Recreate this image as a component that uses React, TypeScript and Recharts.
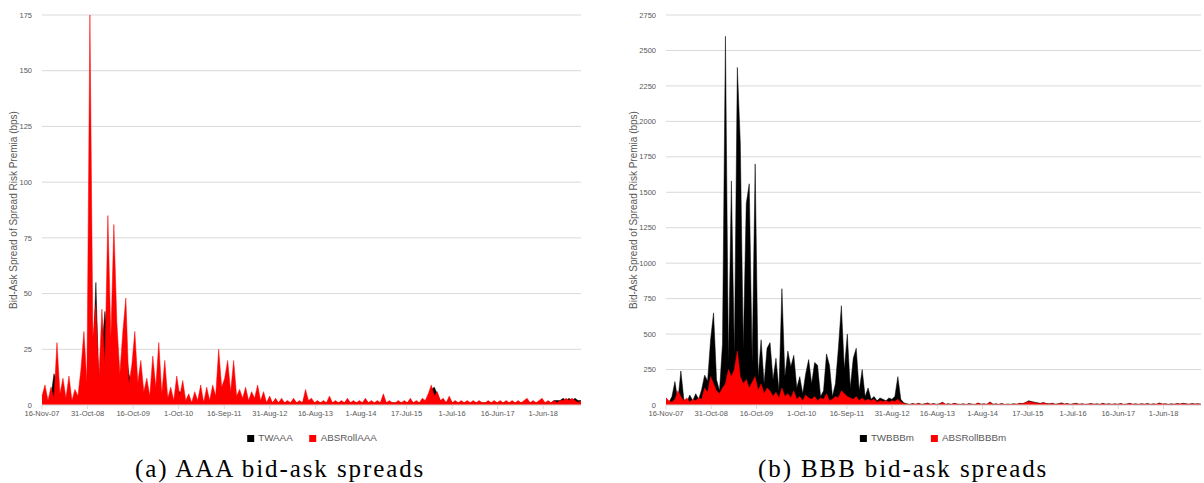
import React from 'react';
import { AreaChart, Area, XAxis, YAxis, CartesianGrid } from 'recharts';

// spacing between observations (days since 16-Nov-07)
const STEP_DAYS = 23;

const tickDays = [0, 350, 700, 1050, 1400, 1750, 2100, 2450, 2800, 3150, 3500, 3850];
const tickLabels = [
  '16-Nov-07', '31-Oct-08', '16-Oct-09', '1-Oct-10', '16-Sep-11', '31-Aug-12',
  '16-Aug-13', '1-Aug-14', '17-Jul-15', '1-Jul-16', '16-Jun-17', '1-Jun-18',
];

const aaaTicks = [0, 25, 50, 75, 100, 125, 150, 175];
const bbbTicks = [0, 250, 500, 750, 1000, 1250, 1500, 1750, 2000, 2250, 2500, 2750];

// AAA panel
const twAAA = [
  3, 5, 1, 4, 14, 10, 3, 6, 2, 7,
  1, 4, 2, 8, 15, 6, 60, 20, 55, 8,
  25, 42, 30, 15, 35, 20, 8, 18, 25, 14,
  9, 15, 5, 10, 3, 6, 2, 11, 4, 12,
  3, 10, 2, 5, 1, 6, 6, 4, 1, 3,
  1, 3, 1, 5, 1, 4, 1, 5, 2, 12,
  4, 6, 10, 3, 9, 2, 4, 2, 4, 1,
  3, 2, 5, 1, 3, 1, 2, 1, 2, 1,
  2, 1, 1, 1, 2, 1, 1, 1, 4, 1,
  2, 1, 1, 1, 1, 1, 2, 1, 1, 1,
  1, 1, 2, 1, 1, 1, 1, 1, 2, 1,
  1, 1, 1, 1, 3, 1, 1, 1, 1, 1,
  1, 1, 1, 2, 1, 1, 1, 2, 1, 4,
  7, 8, 5, 2, 2, 1, 3, 1, 1, 1,
  1, 1, 1, 1, 1, 1, 1, 1, 1, 1,
  1, 1, 1, 1, 1, 1, 1, 1, 1, 1,
  1, 1, 2, 1, 1, 1, 1, 2, 1, 1,
  1, 2, 2, 2, 3, 2, 3, 2, 3, 2,
  2,
];
const absRollAAA = [
  4, 9, 2, 8, 3, 28, 5, 12, 3, 13,
  2, 7, 4, 16, 33, 10, 175, 30, 45, 12,
  43, 18, 85, 30, 81, 37, 14, 33, 48, 9,
  18, 33, 10, 20, 6, 12, 4, 22, 8, 28,
  5, 20, 3, 8, 2, 13, 4, 11, 2, 5,
  1, 6, 2, 9, 1, 8, 2, 9, 4, 25,
  8, 12, 20, 6, 20, 4, 7, 3, 8, 2,
  6, 3, 9, 2, 6, 1, 4, 1, 3, 1,
  3, 1, 2, 1, 3, 1, 2, 1, 7, 2,
  3, 1, 2, 1, 2, 1, 4, 1, 2, 1,
  2, 1, 3, 1, 2, 1, 2, 1, 3, 1,
  2, 1, 2, 1, 5, 1, 2, 1, 1, 2,
  1, 2, 1, 3, 1, 2, 1, 3, 2, 5,
  9, 4, 6, 2, 3, 1, 4, 1, 2, 1,
  2, 1, 2, 1, 2, 1, 2, 1, 1, 2,
  1, 2, 1, 2, 1, 2, 1, 2, 1, 2,
  1, 2, 3, 1, 2, 1, 2, 3, 1, 2,
  1, 2, 1, 2, 2, 3, 2, 3, 2, 1,
  2,
];

// BBB panel
const twBBBm = [
  50, 20, 60, 165, 30, 240, 40, 20, 70, 30,
  80, 40, 110, 210, 170, 460, 650, 180, 100, 430,
  2600, 300, 1580, 350, 2380, 1850, 400, 1420, 1560, 300,
  1700, 200, 460, 150, 400, 440, 180, 330, 100, 820,
  200, 380, 270, 350, 120, 200, 80, 220, 320, 150,
  300, 280, 60, 100, 360, 280, 60, 150, 400, 700,
  250, 500, 120, 330, 400, 100, 250, 60, 120, 40,
  60, 30, 50, 40, 30, 50, 40, 60, 200, 40,
  15, 8, 5, 10, 6, 12, 5, 8, 14, 6,
  10, 5, 8, 20, 6, 9, 5, 12, 7, 5,
  8, 4, 10, 6, 5, 14, 6, 8, 5, 22,
  6, 8, 5, 10, 4, 7, 5, 9, 6, 12,
  10, 18, 30, 24, 20, 15, 12, 18, 10, 8,
  12, 6, 9, 15, 7, 10, 5, 8, 12, 6,
  9, 5, 7, 10, 6, 8, 5, 12, 6, 9,
  5, 8, 6, 10, 5, 7, 12, 6, 8, 5,
  9, 6, 10, 5, 8, 6, 14, 7, 9, 5,
  8, 6, 10, 7, 12, 8, 6, 10, 7, 9,
  6,
];
const absRollBBBm = [
  50, 30, 20, 40, 100, 60, 30, 50, 20, 40,
  30, 50, 40, 120, 90, 200, 150, 100, 80, 120,
  150, 250, 200, 250, 380, 200, 150, 180, 120, 160,
  200, 100, 150, 80, 120, 100, 60, 90, 50, 120,
  60, 80, 50, 100, 40, 60, 30, 70, 50, 40,
  60, 30, 50, 40, 80, 30, 40, 60, 50, 100,
  80, 60, 50, 40, 60, 30, 50, 30, 40, 30,
  40, 20, 30, 25, 30, 20, 30, 25, 40, 20,
  10, 5, 3, 8, 4, 10, 3, 6, 12, 4,
  8, 3, 6, 18, 4, 7, 3, 10, 5, 3,
  6, 2, 8, 4, 3, 12, 4, 6, 3, 20,
  4, 6, 3, 8, 2, 5, 3, 7, 4, 10,
  8, 15, 25, 20, 16, 12, 10, 15, 8, 6,
  10, 4, 7, 12, 5, 8, 3, 6, 10, 4,
  7, 3, 5, 8, 4, 6, 3, 10, 4, 7,
  3, 6, 4, 8, 3, 5, 10, 4, 6, 3,
  7, 4, 8, 3, 6, 4, 12, 5, 7, 3,
  6, 4, 8, 5, 10, 6, 4, 8, 5, 7,
  4,
];

const aaaData = twAAA.map((v, i) => ({ day: i * STEP_DAYS, tw: v, roll: absRollAAA[i] }));
const bbbData = twBBBm.map((v, i) => ({ day: i * STEP_DAYS, tw: v, roll: absRollBBBm[i] }));

const TEXT = '#595959';
const GRID = '#d9d9d9';
const SANS = '"Liberation Sans", Arial, sans-serif';
const RED = '#ff0000';
const BLACK = '#000000';

const fmtTick = (d: number) => {
  const k = tickDays.indexOf(d);
  return k >= 0 ? tickLabels[k] : '';
};

type PanelProps = {
  data: { day: number; tw: number; roll: number }[];
  left: number;
  width: number;
  yMax: number;
  yTicks: number[];
  yAxisWidth: number;
  marginRight: number;
  labelOffset: number;
  twName: string;
  rollName: string;
};

function Panel(p: PanelProps) {
  return (
    <div style={{ position: 'absolute', left: p.left, top: 0, width: p.width, height: 425 }}>
      <AreaChart
        width={p.width}
        height={425}
        data={p.data}
        margin={{ top: 15, right: p.marginRight, bottom: 0, left: 0 }}
      >
        <CartesianGrid vertical={false} stroke={GRID} strokeWidth={1} />
        <XAxis
          dataKey="day"
          type="number"
          domain={[0, 4140]}
          ticks={tickDays}
          tickFormatter={fmtTick}
          interval={0}
          height={20}
          tickSize={4}
          tickMargin={2}
          axisLine={{ stroke: GRID }}
          tickLine={{ stroke: GRID }}
          tick={{ fontSize: 7.5, fill: TEXT, fontFamily: SANS }}
        />
        <YAxis
          type="number"
          domain={[0, p.yMax]}
          ticks={p.yTicks}
          interval={0}
          width={p.yAxisWidth}
          axisLine={false}
          tickLine={false}
          tickSize={0}
          tickMargin={10}
          tick={{ fontSize: 7.5, fill: TEXT, fontFamily: SANS }}
          label={{
            value: 'Bid-Ask Spread of Spread Risk Premia (bps)',
            angle: -90,
            position: 'insideLeft',
            offset: p.labelOffset,
            style: { textAnchor: 'middle', fontSize: 10, fill: TEXT, fontFamily: SANS },
          }}
        />
        <Area
          type="linear"
          dataKey="tw"
          name={p.twName}
          stroke={BLACK}
          strokeWidth={0.5}
          fill={BLACK}
          fillOpacity={1}
          dot={false}
          activeDot={false}
          isAnimationActive={false}
        />
        <Area
          type="linear"
          dataKey="roll"
          name={p.rollName}
          stroke={RED}
          strokeWidth={0.5}
          fill={RED}
          fillOpacity={1}
          dot={false}
          activeDot={false}
          isAnimationActive={false}
        />
      </AreaChart>
    </div>
  );
}

function LegendRow({ center, names }: { center: number; names: string[] }) {
  const colors = [BLACK, RED];
  return (
    <div
      style={{
        position: 'absolute',
        left: center,
        top: 431,
        transform: 'translateX(-50%)',
        display: 'flex',
        alignItems: 'center',
        whiteSpace: 'nowrap',
        fontFamily: SANS,
        fontSize: 9.8,
        color: TEXT,
        lineHeight: '14px',
      }}
    >
      {names.map((n, k) => (
        <div key={n} style={{ display: 'flex', alignItems: 'center', marginLeft: k === 0 ? 0 : 17 }}>
          <span style={{ display: 'inline-block', width: 7, height: 7, background: colors[k], marginRight: 4 }} />
          <span>{n}</span>
        </div>
      ))}
    </div>
  );
}

function Caption({ left, text }: { left: number; text: string }) {
  return (
    <div
      style={{
        position: 'absolute',
        left,
        top: 456,
        fontFamily: '"Liberation Serif", "Times New Roman", serif',
        fontSize: 25,
        lineHeight: '25px',
        letterSpacing: 1.9,
        color: '#000',
        whiteSpace: 'nowrap',
      }}
    >
      {text}
    </div>
  );
}

export default function App() {
  return (
    <div style={{ position: 'absolute', left: 0, top: 0, width: 1204, height: 483, background: '#fff', overflow: 'hidden' }}>
      <Panel
        data={aaaData}
        left={0}
        width={600}
        yMax={175}
        yTicks={aaaTicks}
        yAxisWidth={42}
        marginRight={19}
        labelOffset={13}
        twName="TWAAA"
        rollName="ABSRollAAA"
      />
      <Panel
        data={bbbData}
        left={600}
        width={604}
        yMax={2750}
        yTicks={bbbTicks}
        yAxisWidth={66}
        marginRight={3}
        labelOffset={33}
        twName="TWBBBm"
        rollName="ABSRollBBBm"
      />
      <LegendRow center={312} names={['TWAAA', 'ABSRollAAA']} />
      <LegendRow center={933} names={['TWBBBm', 'ABSRollBBBm']} />
      <Caption left={135} text="(a) AAA bid-ask spreads" />
      <Caption left={758} text="(b) BBB bid-ask spreads" />
    </div>
  );
}
